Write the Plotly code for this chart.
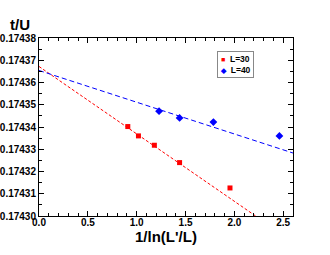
import plotly.graph_objects as go

# Data
x_L30 = [0.909, 1.018, 1.181, 1.439, 1.955]
y_L30 = [0.1743402, 0.174336, 0.1743318, 0.174324, 0.1743126]
x_L40 = [1.229, 1.439, 1.785, 2.461]
y_L40 = [0.1743471, 0.1743441, 0.1743422, 0.174336]

# Fit lines (endpoints)
fit_x = [0.0, 2.6]
fit_L30 = [0.1743672, 0.1743672 - 3.03e-5 * 2.6]
fit_L40 = [0.1743654, 0.1743283]

x_ticks = [0.0, 0.5, 1.0, 1.5, 2.0, 2.5]
y_ticks = [0.17430, 0.17431, 0.17432, 0.17433, 0.17434, 0.17435, 0.17436, 0.17437, 0.17438]

series_names = ["L=30", "L=40"]
series_colors = ["#ff0000", "#0000ff"]

fnt = "Liberation Sans, Arial, sans-serif"

fig = go.Figure()
fig.add_trace(go.Scatter(x=fit_x, y=fit_L30, mode="lines",
                         line=dict(color=series_colors[0], width=1, dash="3px,2px"),
                         showlegend=False, hoverinfo="skip"))
fig.add_trace(go.Scatter(x=fit_x, y=fit_L40, mode="lines",
                         line=dict(color=series_colors[1], width=1, dash="5px,3px"),
                         showlegend=False, hoverinfo="skip"))
fig.add_trace(go.Scatter(x=x_L30, y=y_L30, mode="markers", name=series_names[0], showlegend=False,
                         marker=dict(symbol="square", size=5, color=series_colors[0])))
fig.add_trace(go.Scatter(x=x_L40, y=y_L40, mode="markers", name=series_names[1], showlegend=False,
                         marker=dict(symbol="diamond", size=6, color=series_colors[1])))

axis_common = dict(
    showgrid=False, zeroline=False, showline=True, linecolor="black", linewidth=1,
    mirror="allticks", ticks="inside", ticklen=5, tickwidth=1, tickcolor="black",
    automargin=False,
    tickfont=dict(family=fnt, size=10, color="black", weight="bold"),
)

fig.update_xaxes(range=[0, 2.6], tickvals=x_ticks,
                 ticktext=[f"{v:.1f}" for v in x_ticks],
                 ticklabelstandoff=-3,
                 minor=dict(dtick=0.1, ticks="inside", ticklen=3, tickcolor="black", showgrid=False),
                 **axis_common)
fig.update_yaxes(range=[0.17430, 0.17438], tickvals=y_ticks,
                 ticktext=[f"{v:.5f}" for v in y_ticks],
                 minor=dict(dtick=0.000005, ticks="inside", ticklen=3, tickcolor="black", showgrid=False),
                 **axis_common)

legend_text = (
    f"<span style='color:{series_colors[0]};font-size:7px'>■</span>  {series_names[0]}<br>"
    f"<span style='color:{series_colors[1]};font-size:7px'>◆</span>  {series_names[1]}"
)

fig.update_layout(
    width=330, height=255,
    margin=dict(l=39, r=37, t=38, b=39),
    paper_bgcolor="white", plot_bgcolor="white",
    showlegend=False,
    annotations=[
        dict(text="t/U", x=(20 - 39) / 254, y=(216 - 25) / 178, xref="paper", yref="paper",
             showarrow=False, xanchor="center", yanchor="middle",
             font=dict(family=fnt, size=15, color="black", weight="bold")),
        dict(text="1/ln(L'/L)", x=0.5, y=(216 - 236) / 178, xref="paper", yref="paper",
             showarrow=False, yanchor="middle",
             font=dict(family=fnt, size=15, color="black", weight="bold")),
        dict(text=legend_text, x=(217 - 39) / 254, y=(216 - 51) / 178, xref="paper", yref="paper",
             showarrow=False, xanchor="left", yanchor="top", align="left",
             bordercolor="#888888", borderwidth=1, borderpad=2, bgcolor="white",
             font=dict(family=fnt, size=8.5, color="black", weight="bold")),
    ],
)

fig.write_html("out.html", config={"displayModeBar": False},
               post_script="document.body.style.margin='0';")
